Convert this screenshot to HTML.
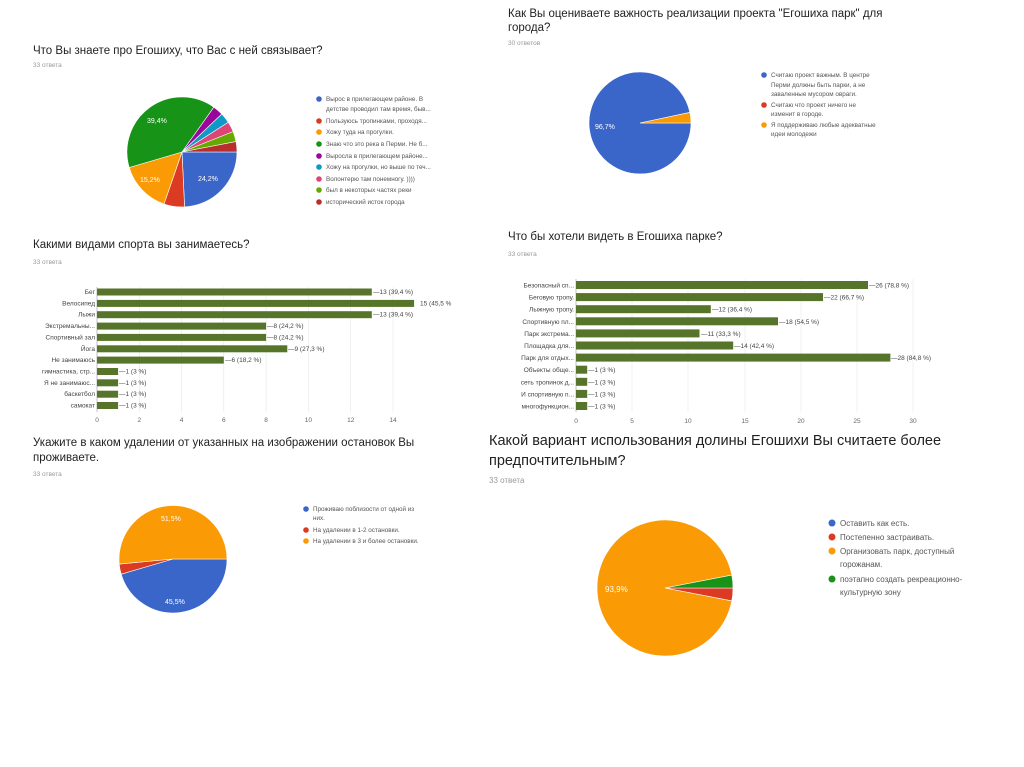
<!DOCTYPE html>
<html><head><meta charset="utf-8"><style>
body{margin:0;background:#fff}
svg{display:block}
text{font-family:"Liberation Sans","Noto Sans CJK SC",sans-serif}
.t{font-size:11.5px;fill:#222}
.tb{font-size:14.5px;fill:#222}
.s{font-size:6.5px;fill:#999}
.lg{font-size:6.3px;fill:#555}
.lgb{font-size:8px;fill:#555}
.pl{font-size:7px;fill:#fff}
.bl{font-size:6.5px;fill:#444;text-anchor:end}
.bv{font-size:6.5px;fill:#444}
.tk{font-size:6.5px;fill:#666;text-anchor:middle}
</style></head><body>
<svg width="1024" height="767" viewBox="0 0 1024 767" xmlns="http://www.w3.org/2000/svg">
<rect width="1024" height="767" fill="#fff"/>
<!-- Chart 1 -->
<text x="33" y="54" class="t">Что Вы знаете про Егошиху, что Вас с ней связывает?</text>
<text x="33" y="67" class="s">33 ответа</text>
<g stroke="#fff" stroke-width="0.6">
<path d="M182,152 L237,152 A55,55 0 0 1 184.6,206.9Z" fill="#3b66c9"/>
<path d="M182,152 L184.6,206.9 A55,55 0 0 1 164,204Z" fill="#db3b22"/>
<path d="M182,152 L164,204 A55,55 0 0 1 129.2,167.5Z" fill="#fa9a05"/>
<path d="M182,152 L129.2,167.5 A55,55 0 0 1 213.9,107.2Z" fill="#179318"/>
<path d="M182,152 L213.9,107.2 A55,55 0 0 1 221.8,114Z" fill="#98079a"/>
<path d="M182,152 L221.8,114 A55,55 0 0 1 228.3,122.3Z" fill="#0e99c6"/>
<path d="M182,152 L228.3,122.3 A55,55 0 0 1 233.1,131.6Z" fill="#dd4577"/>
<path d="M182,152 L233.1,131.6 A55,55 0 0 1 236,141.6Z" fill="#66aa00"/>
<path d="M182,152 L236,141.6 A55,55 0 0 1 237,152Z" fill="#b82e2e"/>
</g>
<text x="147" y="123" class="pl">39,4%</text>
<text x="140" y="182" class="pl">15,2%</text>
<text x="198" y="181" class="pl">24,2%</text>
<g class="lg">
<circle cx="319" cy="99" r="2.8" fill="#3b66c9"/><text x="326" y="101">Вырос в прилегающем районе. В</text>
<text x="326" y="111">детстве проводил там время, быв...</text>
<circle cx="319" cy="121" r="2.8" fill="#db3b22"/><text x="326" y="123">Пользуюсь тропинками, проходя...</text>
<circle cx="319" cy="132" r="2.8" fill="#fa9a05"/><text x="326" y="134">Хожу туда на прогулки.</text>
<circle cx="319" cy="144" r="2.8" fill="#179318"/><text x="326" y="146">Знаю что это река в Перми. Не б...</text>
<circle cx="319" cy="156" r="2.8" fill="#98079a"/><text x="326" y="158">Выросла в прилегающем районе...</text>
<circle cx="319" cy="167" r="2.8" fill="#0e99c6"/><text x="326" y="169">Хожу на прогулки, но выше по теч...</text>
<circle cx="319" cy="179" r="2.8" fill="#dd4577"/><text x="326" y="181">Волонтерю там понемногу. ))))</text>
<circle cx="319" cy="190" r="2.8" fill="#66aa00"/><text x="326" y="192">был в некоторых частях реки</text>
<circle cx="319" cy="202" r="2.8" fill="#b82e2e"/><text x="326" y="204">исторический исток города</text>
</g>
<!-- Chart 2 top-right -->
<text x="508" y="17" class="t">Как Вы оцениваете важность реализации проекта "Егошиха парк" для</text>
<text x="508" y="31" class="t">города?</text>
<text x="508" y="45" class="s">30 ответов</text>
<path d="M640,123 L691,123 A51,51 0 1 1 689.9,112.4Z" fill="#3b66c9" stroke="#fff" stroke-width="0.6"/>
<path d="M640,123 L689.9,112.4 A51,51 0 0 1 691,123Z" fill="#fa9a05" stroke="#fff" stroke-width="0.6"/>
<text x="595" y="129" class="pl">96,7%</text>
<g class="lg">
<circle cx="764" cy="75" r="2.8" fill="#3b66c9"/><text x="771" y="77">Считаю проект важным. В центре</text>
<text x="771" y="87">Перми должны быть парки, а не</text>
<text x="771" y="96">заваленные мусором овраги.</text>
<circle cx="764" cy="105" r="2.8" fill="#db3b22"/><text x="771" y="107">Считаю что проект ничего не</text>
<text x="771" y="116">изменит в городе.</text>
<circle cx="764" cy="125" r="2.8" fill="#fa9a05"/><text x="771" y="127">Я поддерживаю любые адекватные</text>
<text x="771" y="136">идеи молодежи</text>
</g>
<!-- Chart 3 bar left -->
<text x="33" y="248" class="t">Какими видами спорта вы занимаетесь?</text>
<text x="33" y="264" class="s">33 ответа</text>
<g stroke="#e6e6e6" stroke-width="0.6">
<line x1="139.3" y1="287" x2="139.3" y2="412"/><line x1="181.6" y1="287" x2="181.6" y2="412"/><line x1="223.8" y1="287" x2="223.8" y2="412"/><line x1="266.1" y1="287" x2="266.1" y2="412"/><line x1="308.4" y1="287" x2="308.4" y2="412"/><line x1="350.7" y1="287" x2="350.7" y2="412"/><line x1="393" y1="287" x2="393" y2="412"/>
</g>
<line x1="97" y1="287" x2="97" y2="412" stroke="#999" stroke-width="0.6"/>
<g fill="#57752a">
<rect x="97" y="288.5" width="274.8" height="7"/>
<rect x="97" y="299.9" width="317.1" height="7"/>
<rect x="97" y="311.2" width="274.8" height="7"/>
<rect x="97" y="322.6" width="169.1" height="7"/>
<rect x="97" y="333.9" width="169.1" height="7"/>
<rect x="97" y="345.3" width="190.3" height="7"/>
<rect x="97" y="356.6" width="126.8" height="7"/>
<rect x="97" y="368" width="21.1" height="7"/>
<rect x="97" y="379.3" width="21.1" height="7"/>
<rect x="97" y="390.7" width="21.1" height="7"/>
<rect x="97" y="402" width="21.1" height="7"/>
</g>
<g class="bl">
<text x="95" y="294">Бег</text><text x="95" y="305.4">Велосипед</text><text x="95" y="316.7">Лыжи</text><text x="95" y="328.1">Экстремальны...</text><text x="95" y="339.4">Спортивный зал</text><text x="95" y="350.8">Йога</text><text x="95" y="362.1">Не занимаюсь</text><text x="95" y="373.5">гимнастика, стр...</text><text x="95" y="384.8">Я не занимаюс...</text><text x="95" y="396.2">баскетбол</text><text x="95" y="407.5">самокат</text>
</g>
<g class="bv">
<text x="373" y="294">—13 (39,4 %)</text><text x="420" y="305.4">15 (45,5 %</text><text x="373" y="316.7">—13 (39,4 %)</text><text x="267" y="328.1">—8 (24,2 %)</text><text x="267" y="339.4">—8 (24,2 %)</text><text x="288" y="350.8">—9 (27,3 %)</text><text x="225" y="362.1">—6 (18,2 %)</text><text x="119" y="373.5">—1 (3 %)</text><text x="119" y="384.8">—1 (3 %)</text><text x="119" y="396.2">—1 (3 %)</text><text x="119" y="407.5">—1 (3 %)</text>
</g>
<g class="tk">
<text x="97" y="422">0</text><text x="139.3" y="422">2</text><text x="181.6" y="422">4</text><text x="223.8" y="422">6</text><text x="266.1" y="422">8</text><text x="308.4" y="422">10</text><text x="350.7" y="422">12</text><text x="393" y="422">14</text>
</g>
<!-- Chart 4 bar right -->
<text x="508" y="240" class="t">Что бы хотели видеть в Егошиха парке?</text>
<text x="508" y="256" class="s">33 ответа</text>
<g stroke="#e6e6e6" stroke-width="0.6">
<line x1="632" y1="279" x2="632" y2="412"/><line x1="688" y1="279" x2="688" y2="412"/><line x1="745" y1="279" x2="745" y2="412"/><line x1="801" y1="279" x2="801" y2="412"/><line x1="857" y1="279" x2="857" y2="412"/><line x1="913" y1="279" x2="913" y2="412"/>
</g>
<line x1="576" y1="279" x2="576" y2="412" stroke="#999" stroke-width="0.6"/>
<g fill="#57752a">
<rect x="576" y="281" width="292" height="8"/>
<rect x="576" y="293.1" width="247" height="8"/>
<rect x="576" y="305.2" width="134.8" height="8"/>
<rect x="576" y="317.3" width="202" height="8"/>
<rect x="576" y="329.4" width="123.5" height="8"/>
<rect x="576" y="341.5" width="157.2" height="8"/>
<rect x="576" y="353.6" width="314.4" height="8"/>
<rect x="576" y="365.7" width="11.2" height="8"/>
<rect x="576" y="377.8" width="11.2" height="8"/>
<rect x="576" y="389.9" width="11.2" height="8"/>
<rect x="576" y="402" width="11.2" height="8"/>
</g>
<g class="bl">
<text x="574" y="287.5">Безопасный сп...</text><text x="574" y="299.6">Беговую тропу.</text><text x="574" y="311.7">Лыжную тропу.</text><text x="574" y="323.8">Спортивную пл...</text><text x="574" y="335.9">Парк экстрема...</text><text x="574" y="348">Площадка для...</text><text x="574" y="360.1">Парк для отдых...</text><text x="574" y="372.2">Объекты обще...</text><text x="574" y="384.3">сеть тропинок д...</text><text x="574" y="396.4">И спортивную п...</text><text x="574" y="408.5">многофункцион...</text>
</g>
<g class="bv">
<text x="869" y="287.5">—26 (78,8 %)</text><text x="824" y="299.6">—22 (66,7 %)</text><text x="712" y="311.7">—12 (36,4 %)</text><text x="779" y="323.8">—18 (54,5 %)</text><text x="701" y="335.9">—11 (33,3 %)</text><text x="734" y="348">—14 (42,4 %)</text><text x="891" y="360.1">—28 (84,8 %)</text><text x="588" y="372.2">—1 (3 %)</text><text x="588" y="384.3">—1 (3 %)</text><text x="588" y="396.4">—1 (3 %)</text><text x="588" y="408.5">—1 (3 %)</text>
</g>
<g class="tk">
<text x="576" y="423">0</text><text x="632" y="423">5</text><text x="688" y="423">10</text><text x="745" y="423">15</text><text x="801" y="423">20</text><text x="857" y="423">25</text><text x="913" y="423">30</text>
</g>
<!-- Chart 5 bottom-left -->
<text x="33" y="446" class="t">Укажите в каком удалении от указанных на изображении остановок Вы</text>
<text x="33" y="461" class="t">проживаете.</text>
<text x="33" y="476" class="s">33 ответа</text>
<g stroke="#fff" stroke-width="0.6">
<path d="M173,559 L227,559 A54,54 0 0 1 121.2,574.2Z" fill="#3b66c9"/>
<path d="M173,559 L121.2,574.2 A54,54 0 0 1 119.2,564.1Z" fill="#db3b22"/>
<path d="M173,559 L119.2,564.1 A54,54 0 1 1 227,559Z" fill="#fa9a05"/>
</g>
<text x="161" y="521" class="pl">51,5%</text>
<text x="165" y="604" class="pl">45,5%</text>
<g class="lg">
<circle cx="306" cy="509" r="2.8" fill="#3b66c9"/><text x="313" y="511">Проживаю поблизости от одной из</text>
<text x="313" y="520">них.</text>
<circle cx="306" cy="530" r="2.8" fill="#db3b22"/><text x="313" y="532">На удалении в 1-2 остановки.</text>
<circle cx="306" cy="541" r="2.8" fill="#fa9a05"/><text x="313" y="543">На удалении в 3 и более остановки.</text>
</g>
<!-- Chart 6 bottom-right -->
<text x="489" y="445" class="tb">Какой вариант использования долины Егошихи Вы считаете более</text>
<text x="489" y="465" class="tb">предпочтительным?</text>
<text x="489" y="483" class="s" style="font-size:8px">33 ответа</text>
<g stroke="#fff" stroke-width="0.6">
<path d="M665,588 L733,588 A68,68 0 0 1 731.8,600.9Z" fill="#db3b22"/>
<path d="M665,588 L731.8,600.9 A68,68 0 1 1 731.8,575.1Z" fill="#fa9a05"/>
<path d="M665,588 L731.8,575.1 A68,68 0 0 1 733,588Z" fill="#179318"/>
</g>
<text x="605" y="592" class="pl" style="font-size:8px">93,9%</text>
<g class="lgb">
<circle cx="832" cy="523" r="3.5" fill="#3b66c9"/><text x="840" y="526">Оставить как есть.</text>
<circle cx="832" cy="537" r="3.5" fill="#db3b22"/><text x="840" y="540">Постепенно застраивать.</text>
<circle cx="832" cy="551" r="3.5" fill="#fa9a05"/><text x="840" y="554">Организовать парк, доступный</text>
<text x="840" y="567">горожанам.</text>
<circle cx="832" cy="579" r="3.5" fill="#179318"/><text x="840" y="582">поэтапно создать рекреационно-</text>
<text x="840" y="595">культурную зону</text>
</g>
</svg>
</body></html>
